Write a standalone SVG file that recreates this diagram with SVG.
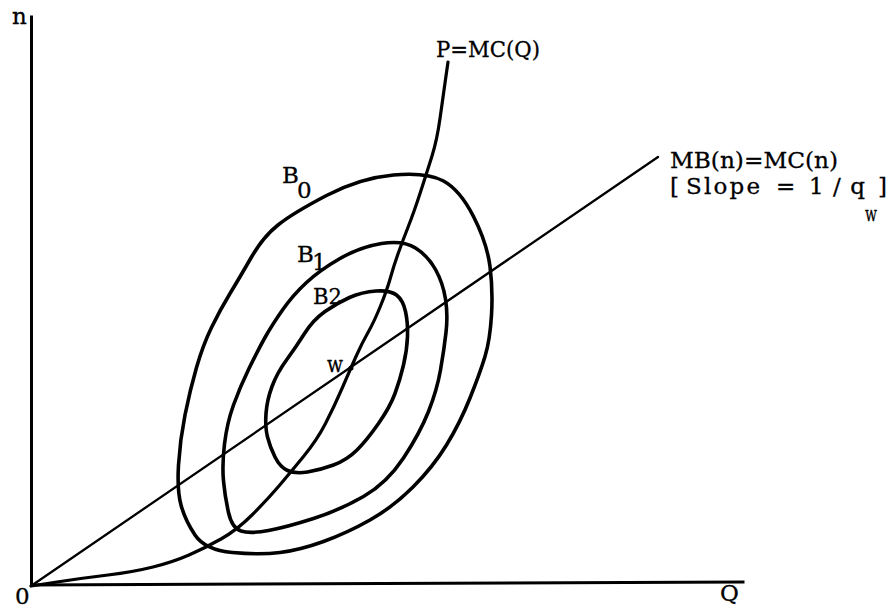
<svg xmlns="http://www.w3.org/2000/svg" width="890" height="608" viewBox="0 0 890 608">
<style>
.t{font-family:"DejaVu Serif","Liberation Serif",serif;font-size:23px;fill:#000;stroke:#000;stroke-width:0.3}
.s{font-size:21px}
.ax{stroke:#000;stroke-width:3;fill:none;stroke-linecap:square}
.iso{stroke:#000;stroke-width:3.6;fill:none;stroke-linejoin:round}
.mc{stroke:#000;stroke-width:3.2;fill:none;stroke-linecap:round;stroke-linejoin:round}
.mb{stroke:#000;stroke-width:2.3;fill:none;stroke-linecap:round}
</style>
<rect width="890" height="608" fill="#fff"/>
<g id="axes">
<line class="ax" x1="31.5" y1="17" x2="31.5" y2="585"/>
<line class="ax" x1="31.5" y1="585" x2="743" y2="582"/>
<text class="t" x="12" y="24">n</text>
<text class="t" x="15" y="604">0</text>
<text class="t" x="720" y="601">Q</text>
</g>
<g id="B0">
<path class="iso" d="M443.5,181 Q460,190 473.5,216.5 Q487,243 490,266.5 Q493,290 491.5,315 Q490,340 485,356.5 Q480,373 470,398 Q460,423 446.5,445 Q433,467 413,487 Q393,507 370,520 Q347,533 323.5,541.5 Q300,550 280,552.5 Q260,555 232.5,552.5 Q205,550 195,535 Q185,520 181,505 Q177,490 178.5,465 Q180,440 185,415 Q190,390 196.5,367.5 Q203,345 211.5,327.5 Q220,310 230,293.5 Q240,277 251.5,257 Q263,237 278,225 Q293,213 326.5,195.5 Q360,178 393.5,175 Q427,172 443.5,181 Z"/>
<text class="t" x="282" y="183">B</text>
<text class="t" x="297" y="198">0</text>
</g>
<g id="B1">
<path class="iso" d="M415.5,248 Q428,256 435.5,269.5 Q443,283 445.5,299 Q448,315 446,332.5 Q444,350 440.5,370 Q437,390 428.5,411.5 Q420,433 403.5,458 Q387,483 363.5,496.5 Q340,510 313.5,518.5 Q287,527 268.5,530.5 Q250,534 241,531 Q232,528 228.5,512.5 Q225,497 223.5,481 Q222,465 224.5,444 Q227,423 233.5,405 Q240,387 249,368.5 Q258,350 265,337.5 Q272,325 282.5,310 Q293,295 306.5,282.5 Q320,270 340,258.5 Q360,247 381.5,243.5 Q403,240 415.5,248 Z"/>
<text class="t" x="297" y="262">B</text>
<text class="t" x="312" y="270">1</text>
</g>
<g id="B2">
<path class="iso" d="M396.5,295 Q403,300 405.5,311.5 Q408,323 407.5,336.5 Q407,350 403.5,365 Q400,380 395,393.5 Q390,407 378.5,423.5 Q367,440 357,450 Q347,460 333.5,465 Q320,470 307.5,472 Q295,474 287.5,470.5 Q280,467 275,457 Q270,447 267.5,437 Q265,427 266,413.5 Q267,400 272,386.5 Q277,373 286.5,360 Q296,347 304.5,333.5 Q313,320 325,311.5 Q337,303 349.5,297.5 Q362,292 376,291 Q390,290 396.5,295 Z"/>
<text class="t" x="313" y="304" textLength="29" lengthAdjust="spacingAndGlyphs">B2</text>
</g>
<g id="connectors">
<path id="PMC" class="mc" d="M31,586 L57,582 Q83,578 108,575 Q133,572 153,567 Q173,562 189,555 Q205,548 221,539 Q237,530 252,515 Q267,500 278.5,486.5 Q290,473 303.5,456.5 Q317,440 325.5,423.5 Q334,407 342,388.5 Q350,370 356,356.5 Q362,343 368,332.5 Q374,322 380.5,306 Q387,290 390.5,277.5 Q394,265 398.5,252.5 Q403,240 408.5,226 Q414,212 420.5,192 Q427,172 432,156 Q437,140 440,118.5 Q443,97 445.5,79.5 L448,62"/>
<line id="MB" class="mb" x1="31" y1="586" x2="658" y2="157"/>
</g>
<g id="w">
<circle cx="351" cy="368" r="2.5" fill="#000"/>
<text class="t" x="327" y="372" textLength="16" lengthAdjust="spacingAndGlyphs">w</text>
</g>
<g id="labels">
<text class="t" x="436" y="57" textLength="104" lengthAdjust="spacingAndGlyphs">P=MC(Q)</text>
<text class="t" x="670" y="168" textLength="168" lengthAdjust="spacingAndGlyphs">MB(n)=MC(n)</text>
<text class="t" y="194"><tspan x="670">[</tspan><tspan x="686" textLength="74" lengthAdjust="spacing">Slope</tspan><tspan x="776">=</tspan><tspan x="809" textLength="56" lengthAdjust="spacing">1/q</tspan></text>
<text class="t s" x="865" y="221" textLength="12" lengthAdjust="spacingAndGlyphs">w</text>
<text class="t" x="878" y="194">]</text>
</g>
</svg>
